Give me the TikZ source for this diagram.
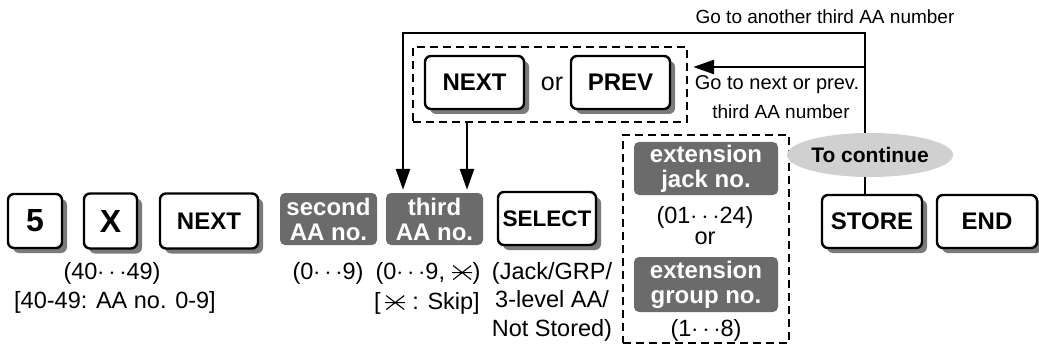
\documentclass[tikz,border=0pt]{standalone}
\usepackage{fontspec}
\setmainfont{Liberation Sans}
\usetikzlibrary{arrows.meta,shadows,shapes.geometric}
\definecolor{boxgray}{HTML}{6B6B6B}
\definecolor{shadowgray}{HTML}{7A7A7A}
\definecolor{ellgray}{HTML}{D0D0D0}
\newcommand\skipsym{\tikz[baseline=-6.5pt,x=1pt,y=1pt,line width=1.1pt]{\draw (-9,-7)--(9,7) (-9,7)--(9,-7) (-10,0)--(10,0);}}
\begin{document}
\begin{tikzpicture}[x=1pt,y=-1pt,
  key/.style={draw, line width=2.4pt, rounded corners=6pt, fill=white, inner sep=0pt,
    font=\bfseries\fontsize{24}{26}\selectfont,
    drop shadow={shadow xshift=5pt, shadow yshift=-5pt, fill=shadowgray, opacity=1}},
  bigkey/.style={key, font=\bfseries\fontsize{32}{34}\selectfont},
  graybox/.style={fill=boxgray, rounded corners=5pt, text=white, align=center, inner sep=0pt,
    font=\bfseries\fontsize{24}{25}\selectfont},
  lbl/.style={inner sep=0pt, align=center, font=\fontsize{23.5}{28.5}\selectfont},
  note/.style={inner sep=0pt, align=center, font=\fontsize{19}{22}\selectfont},
  conn/.style={line width=2.6pt},
  arr/.style={conn, -{Triangle[length=21pt,width=14pt]}},
  dbox/.style={draw, line width=2.4pt, dash pattern=on 8pt off 5pt, inner sep=0pt}
]
\useasboundingbox (0,0) rectangle (1039,350);

% bottom row of keys
\node[bigkey, minimum width=54pt, minimum height=54pt] (k5) at (35,221) {5};
\node[bigkey, minimum width=53pt, minimum height=55pt] (kX) at (110.5,221) {X};
\node[key, minimum width=98pt, minimum height=55pt] (knext) at (209,221) {NEXT};
\node[graybox, minimum width=97pt, minimum height=52pt] (second) at (328.5,219) {second\\AA no.};
\node[graybox, minimum width=97pt, minimum height=52pt] (third) at (434.5,219) {third\\AA no.};
\node[key, minimum width=98pt, minimum height=53pt, font=\bfseries\fontsize{22.5}{24}\selectfont] (select) at (547,218.5) {SELECT};
\node[key, minimum width=100pt, minimum height=53pt] (store) at (872,221.5) {STORE};
\node[key, minimum width=100pt, minimum height=53pt] (end) at (987,221.5) {END};

% labels under keys
\node[lbl] (l4049) at (112,273) {(40$\cdots$49)};
\node[lbl] (laa) at (115,302) {[40-49: AA no. 0-9]};
\node[lbl] (l09) at (328,273) {(0$\cdots$9)};
\node[lbl] (l09s) at (428,273) {(0$\cdots$9, \skipsym)};
\node[lbl] (lskip) at (427,303) {[\,\skipsym\ : Skip]};
\node[lbl] (ljack) at (552,301.5) {(Jack/GRP/\\3-level AA/\\Not Stored)};

% top dashed group
\node[dbox, minimum width=274pt, minimum height=75pt] (dtop) at (550,84.5) {};
\node[key, minimum width=99pt, minimum height=53pt] (tnext) at (474.5,82.5) {NEXT};
\node[key, minimum width=99pt, minimum height=53pt] (tprev) at (620.5,82.5) {PREV};
\node[lbl, font=\fontsize{25}{27}\selectfont] (tor) at (552,84) {or};

% right dashed group
\node[dbox, minimum width=166pt, minimum height=208pt] (dright) at (706,239) {};
\node[graybox, minimum width=144pt, minimum height=53pt] (extjack) at (706,168.5) {extension\\jack no.};
\node[lbl] (l0124) at (705,217) {(01$\cdots$24)};
\node[lbl] (ror) at (705,238) {or};
\node[graybox, minimum width=144pt, minimum height=55pt] (extgrp) at (706,284.5) {extension\\group no.};
\node[lbl] (l18) at (706,330) {(1$\cdots$8)};

% connectors
\coordinate (ctop) at (865,33);
\coordinate (cleft) at (403,33);
\coordinate (cmid) at (865,67);
\draw[arr, shorten >=3pt] (store.north -| ctop) -- (ctop) -- (cleft) -- (third.north -| cleft);
\draw[arr, shorten >=5pt] (cmid) -- (dtop.east |- cmid);
\draw[arr, shorten >=3pt] (dtop.south -| 467,0) -- (third.north -| 467,0);

\node[ellipse, fill=ellgray, minimum width=144pt, minimum height=44pt, inner sep=0pt,
  font=\bfseries\fontsize{21}{23}\selectfont] (cont) at (870,155) {To continue};

% texts on the right
\node[note] (tanother) at (825,17) {Go to another third AA number};
\node[note, font=\fontsize{20}{22}\selectfont] (tgonext) at (777,85) {Go to next or prev.};
\node[note] (tthird) at (781,112) {third AA number};
\end{tikzpicture}
\end{document}
